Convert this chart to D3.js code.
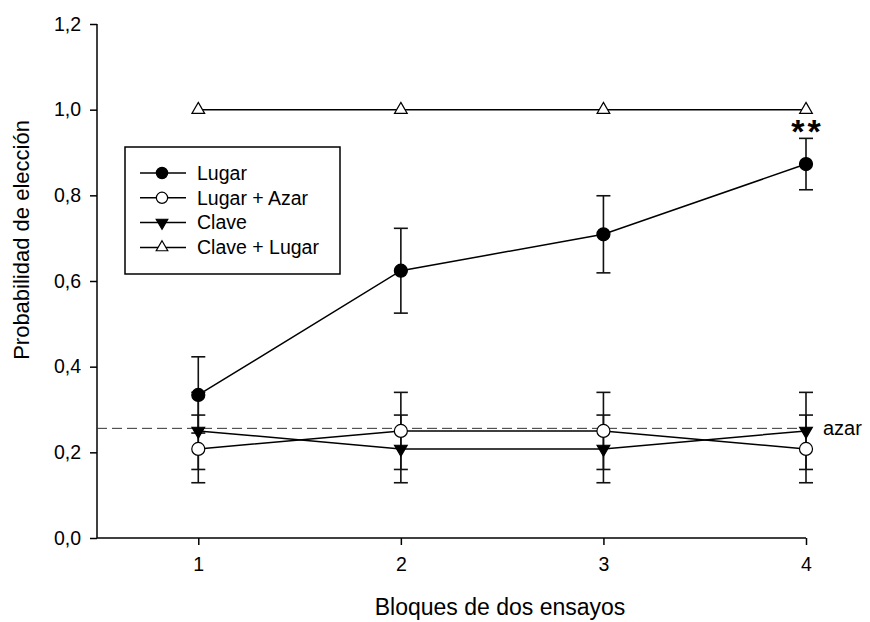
<!DOCTYPE html>
<html>
<head>
<meta charset="utf-8">
<script src="https://cdn.jsdelivr.net/npm/d3@7"></script>
<style>
  body { margin: 0; background: #fff; }
  svg { display: block; }
  text { font-family: "Liberation Sans", Arial, sans-serif; fill: #000; }
</style>
</head>
<body>
<svg id="chart" width="870" height="622"></svg>
<script>
// data
var bloques = [1, 2, 3, 4];
var yTicks = [0, 0.2, 0.4, 0.6, 0.8, 1.0, 1.2];

var lugar = [0.334, 0.624, 0.709, 0.873];
var lugarErr = [0.089, 0.099, 0.09, 0.06];
var lugarAzar = [0.208, 0.25, 0.25, 0.208];
var lugarAzarErr = [0.079, 0.09, 0.09, 0.079];
var clave = [0.25, 0.208, 0.208, 0.25];
var claveErr = [0.09, 0.079, 0.079, 0.09];
var claveLugar = [1, 1, 1, 1];
var azar = 0.256;

var series = [
  { name: "Lugar", vals: lugar, err: lugarErr, shape: "circle", fill: "#000" },
  { name: "Lugar + Azar", vals: lugarAzar, err: lugarAzarErr, shape: "circle", fill: "#fff" },
  { name: "Clave", vals: clave, err: claveErr, shape: "down", fill: "#000" },
  { name: "Clave + Lugar", vals: claveLugar, err: null, shape: "up", fill: "#fff" }
];

var svg = d3.select("#chart");

var x = d3.scaleLinear().domain([0.5, 4]).range([97, 806]);
var y = d3.scaleLinear().domain([0, 1.2]).range([538, 24]);

var fmt = function (d) { return d3.format(".1f")(d).replace(".", ","); };

// axes
var xAxis = svg.append("g")
  .attr("transform", "translate(0,538)")
  .call(d3.axisBottom(x).tickValues(bloques).tickSize(7).tickPadding(12).tickFormat(d3.format("d")));
var yAxis = svg.append("g")
  .attr("transform", "translate(97,0)")
  .call(d3.axisLeft(y).tickValues(yTicks).tickSize(7).tickPadding(9).tickFormat(fmt));

[xAxis, yAxis].forEach(function (a) {
  a.select(".domain").attr("stroke", "#000").attr("stroke-width", 1.5);
  a.selectAll(".tick line").attr("stroke", "#000").attr("stroke-width", 1.5);
  a.selectAll(".tick text").style("font-size", "19.5px").attr("fill", "#000");
});
// remove outer ticks of domain path
xAxis.select(".domain").attr("d", "M97,0H806");
yAxis.select(".domain").attr("d", "M0,24V538");

// axis titles
svg.append("text")
  .attr("x", 500).attr("y", 615)
  .attr("text-anchor", "middle")
  .style("font-size", "23px")
  .text("Bloques de dos ensayos");

svg.append("text")
  .attr("transform", "translate(29,240) rotate(-90)")
  .attr("text-anchor", "middle")
  .style("font-size", "22px")
  .text("Probabilidad de elección");

// chance line
svg.append("line")
  .attr("x1", x(0.5)).attr("x2", 816)
  .attr("y1", y(azar)).attr("y2", y(azar))
  .attr("stroke", "#333").attr("stroke-width", 1)
  .attr("stroke-dasharray", "10,5");
svg.append("text")
  .attr("x", 823).attr("y", y(azar))
  .attr("dy", "0.35em")
  .style("font-size", "20px")
  .text("azar");

function symbolPath(shape, big) {
  if (shape === "circle") {
    return d3.symbol().type(d3.symbolCircle).size(big ? 133 : 100)();
  }
  return d3.symbol().type(d3.symbolTriangle).size(big ? 70 : 58)();
}

function markerTransform(shape, px, py) {
  if (shape === "down") return "translate(" + px + "," + py + ") rotate(180)";
  return "translate(" + px + "," + py + ")";
}

var line = d3.line()
  .x(function (d, i) { return x(bloques[i]); })
  .y(function (d) { return y(d); });

// lines
series.forEach(function (s) {
  svg.append("path")
    .attr("d", line(s.vals))
    .attr("fill", "none")
    .attr("stroke", "#000")
    .attr("stroke-width", 1.5);
});

// error bars
series.forEach(function (s) {
  if (!s.err) return;
  var g = svg.append("g").attr("stroke", "#111").attr("stroke-width", 1.6);
  s.vals.forEach(function (v, i) {
    var cx = x(bloques[i]);
    var top = y(v + s.err[i]), bot = y(v - s.err[i]);
    g.append("line").attr("x1", cx).attr("x2", cx).attr("y1", top).attr("y2", bot);
    g.append("line").attr("x1", cx - 7).attr("x2", cx + 7).attr("y1", top).attr("y2", top);
    g.append("line").attr("x1", cx - 7).attr("x2", cx + 7).attr("y1", bot).attr("y2", bot);
  });
});

// markers
series.forEach(function (s) {
  svg.append("g").selectAll("path")
    .data(s.vals)
    .enter().append("path")
    .attr("d", symbolPath(s.shape, true))
    .attr("transform", function (d, i) { return markerTransform(s.shape, x(bloques[i]), y(d)); })
    .attr("fill", s.fill)
    .attr("stroke", "#000")
    .attr("stroke-width", 1.2);
});

// significance mark
svg.append("text")
  .attr("x", x(4) + 1.5).attr("y", 143)
  .attr("text-anchor", "middle")
  .style("font-size", "34px")
  .style("font-weight", "bold")
  .style("letter-spacing", "3px")
  .text("**");

// legend
var legend = svg.append("g");
legend.append("rect")
  .attr("x", 125).attr("y", 147)
  .attr("width", 215).attr("height", 127)
  .attr("fill", "#fff")
  .attr("stroke", "#000")
  .attr("stroke-width", 1.5);

var rows = legend.selectAll("g.row")
  .data(series)
  .enter().append("g")
  .attr("class", "row")
  .attr("transform", function (d, i) { return "translate(0," + (173 + i * 24.8) + ")"; });

rows.append("line")
  .attr("x1", 140).attr("x2", 186)
  .attr("stroke", "#000").attr("stroke-width", 1.5);
rows.append("path")
  .attr("d", function (d) { return symbolPath(d.shape, false); })
  .attr("transform", function (d) { return markerTransform(d.shape, 162, 0); })
  .attr("fill", function (d) { return d.fill; })
  .attr("stroke", "#000")
  .attr("stroke-width", 1.2);
rows.append("text")
  .attr("x", 197)
  .attr("dy", "0.35em")
  .style("font-size", "19.5px")
  .text(function (d) { return d.name; });
</script>
</body>
</html>
